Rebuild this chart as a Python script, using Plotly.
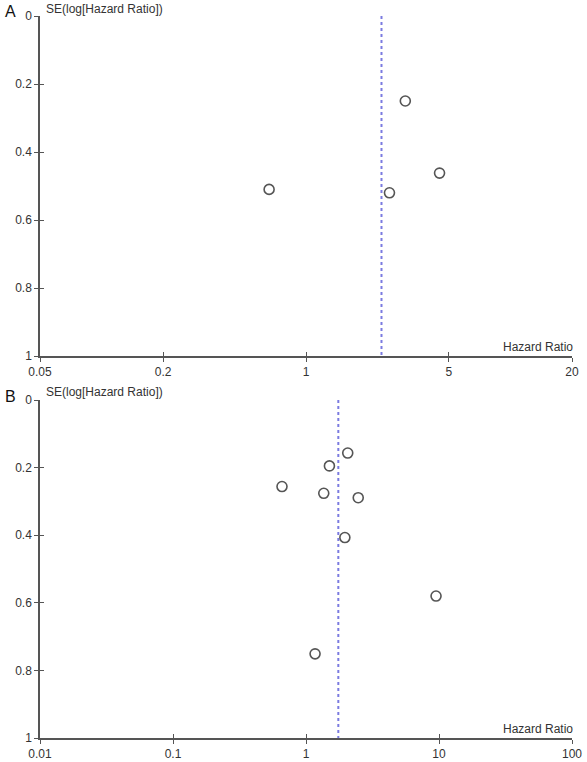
import math
import plotly.graph_objects as go

# ---- data ----
hr_a = [0.66, 3.06, 2.56, 4.5]
se_a = [0.51, 0.25, 0.52, 0.462]
pooled_a = 2.34
xticks_a = [0.05, 0.2, 1, 5, 20]
xticklabels_a = ["0.05", "0.2", "1", "5", "20"]

hr_b = [2.06, 1.50, 0.66, 1.36, 2.47, 1.96, 9.5, 1.17]
se_b = [0.157, 0.195, 0.256, 0.276, 0.289, 0.407, 0.58, 0.751]
pooled_b = 1.75
xticks_b = [0.01, 0.1, 1, 10, 100]
xticklabels_b = ["0.01", "0.1", "1", "10", "100"]

yticks = [0, 0.2, 0.4, 0.6, 0.8, 1]
yticklabels = ["0", "0.2", "0.4", "0.6", "0.8", "1"]

W, H = 587, 762
FONT = "Liberation Sans, Arial, sans-serif"
AXC = "#555555"
TXT = "#333333"
DASHC = "#7b7be0"


def py(p):
    return 1 - p / H


def px(p):
    return p / W


fig = go.Figure()

# Panel A
fig.add_trace(go.Scatter(x=[pooled_a, pooled_a], y=[0, 1], mode="lines",
                         line=dict(color=DASHC, width=2, dash="3px,3px"),
                         xaxis="x", yaxis="y", showlegend=False, hoverinfo="skip"))
fig.add_trace(go.Scatter(x=hr_a, y=se_a, mode="markers",
                         marker=dict(symbol="circle-open", size=10, color="#555555",
                                     line=dict(width=1.6, color="#555555")),
                         xaxis="x", yaxis="y", showlegend=False))
# Panel B
fig.add_trace(go.Scatter(x=[pooled_b, pooled_b], y=[0, 1], mode="lines",
                         line=dict(color=DASHC, width=2, dash="3px,3px"),
                         xaxis="x2", yaxis="y2", showlegend=False, hoverinfo="skip"))
fig.add_trace(go.Scatter(x=hr_b, y=se_b, mode="markers",
                         marker=dict(symbol="circle-open", size=10, color="#555555",
                                     line=dict(width=1.6, color="#555555")),
                         xaxis="x2", yaxis="y2", showlegend=False))

xdom = [px(40), px(572)]
ydom_a = [py(356), py(16)]
ydom_b = [py(738), py(400)]

tickfont = dict(family=FONT, size=12, color=TXT)

common_x = dict(type="log", showgrid=False, zeroline=False, showline=True,
                linecolor=AXC, linewidth=1.5, ticks="outside", ticklen=4,
                tickcolor=AXC, tickwidth=1.2, tickfont=tickfont, domain=xdom,
                automargin=False)
common_y = dict(showgrid=False, zeroline=False, showline=True, linecolor=AXC,
                linewidth=1.5, ticks="outside", ticklen=4, tickcolor=AXC,
                tickwidth=1.2, tickfont=tickfont, tickvals=yticks,
                ticktext=yticklabels, range=[1, 0], automargin=False)

overlay_common = dict(showticklabels=False, ticks="inside", ticklen=4,
                      tickcolor=AXC, tickwidth=1.2, showgrid=False,
                      zeroline=False, showline=False, automargin=False)

fig.update_layout(
    width=W, height=H, margin=dict(l=0, r=0, t=0, b=0, autoexpand=False),
    paper_bgcolor="white", plot_bgcolor="white",
    xaxis=dict(common_x, range=[math.log10(0.05), math.log10(20)],
               tickvals=xticks_a, ticktext=xticklabels_a, anchor="y"),
    yaxis=dict(common_y, domain=ydom_a, anchor="x"),
    xaxis2=dict(common_x, range=[math.log10(0.01), math.log10(100)],
                tickvals=xticks_b, ticktext=xticklabels_b, anchor="y2"),
    yaxis2=dict(common_y, domain=ydom_b, anchor="x2"),
    # overlay axes to make ticks cross the axis lines
    xaxis3=dict(overlay_common, type="log", range=[math.log10(0.05), math.log10(20)],
                overlaying="x", anchor="y", tickvals=xticks_a),
    yaxis3=dict(overlay_common, range=[1, 0], overlaying="y", anchor="x",
                tickvals=yticks),
    xaxis4=dict(overlay_common, type="log", range=[math.log10(0.01), math.log10(100)],
                overlaying="x2", anchor="y2", tickvals=xticks_b),
    yaxis4=dict(overlay_common, range=[1, 0], overlaying="y2", anchor="x2",
                tickvals=yticks),
)

# invisible helper traces so overlay axes are drawn
fig.add_trace(go.Scatter(x=[1], y=[0.5], xaxis="x3", yaxis="y3", mode="markers",
                         marker=dict(opacity=0), showlegend=False, hoverinfo="skip"))
fig.add_trace(go.Scatter(x=[1], y=[0.5], xaxis="x4", yaxis="y4", mode="markers",
                         marker=dict(opacity=0), showlegend=False, hoverinfo="skip"))

ann_font = dict(family=FONT, size=12, color=TXT)
annotations = [
    dict(text="A", x=px(3), y=py(12), xref="paper", yref="paper", xanchor="left",
         yanchor="middle", showarrow=False, font=dict(family=FONT, size=16, color="#111")),
    dict(text="B", x=px(3), y=py(396), xref="paper", yref="paper", xanchor="left",
         yanchor="middle", showarrow=False, font=dict(family=FONT, size=16, color="#111")),
    dict(text="SE(log[Hazard Ratio])", x=px(44), y=py(9), xref="paper", yref="paper",
         xanchor="left", yanchor="middle", showarrow=False, font=ann_font),
    dict(text="SE(log[Hazard Ratio])", x=px(44), y=py(392), xref="paper", yref="paper",
         xanchor="left", yanchor="middle", showarrow=False, font=ann_font),
    dict(text="Hazard Ratio", x=px(575), y=py(347), xref="paper", yref="paper",
         xanchor="right", yanchor="middle", showarrow=False, font=ann_font),
    dict(text="Hazard Ratio", x=px(575), y=py(729), xref="paper", yref="paper",
         xanchor="right", yanchor="middle", showarrow=False, font=ann_font),
]
fig.update_layout(annotations=annotations)

fig.write_html("out.html",
               config={"displayModeBar": False},
               post_script="document.body.style.margin='0';document.body.style.overflow='hidden';")
